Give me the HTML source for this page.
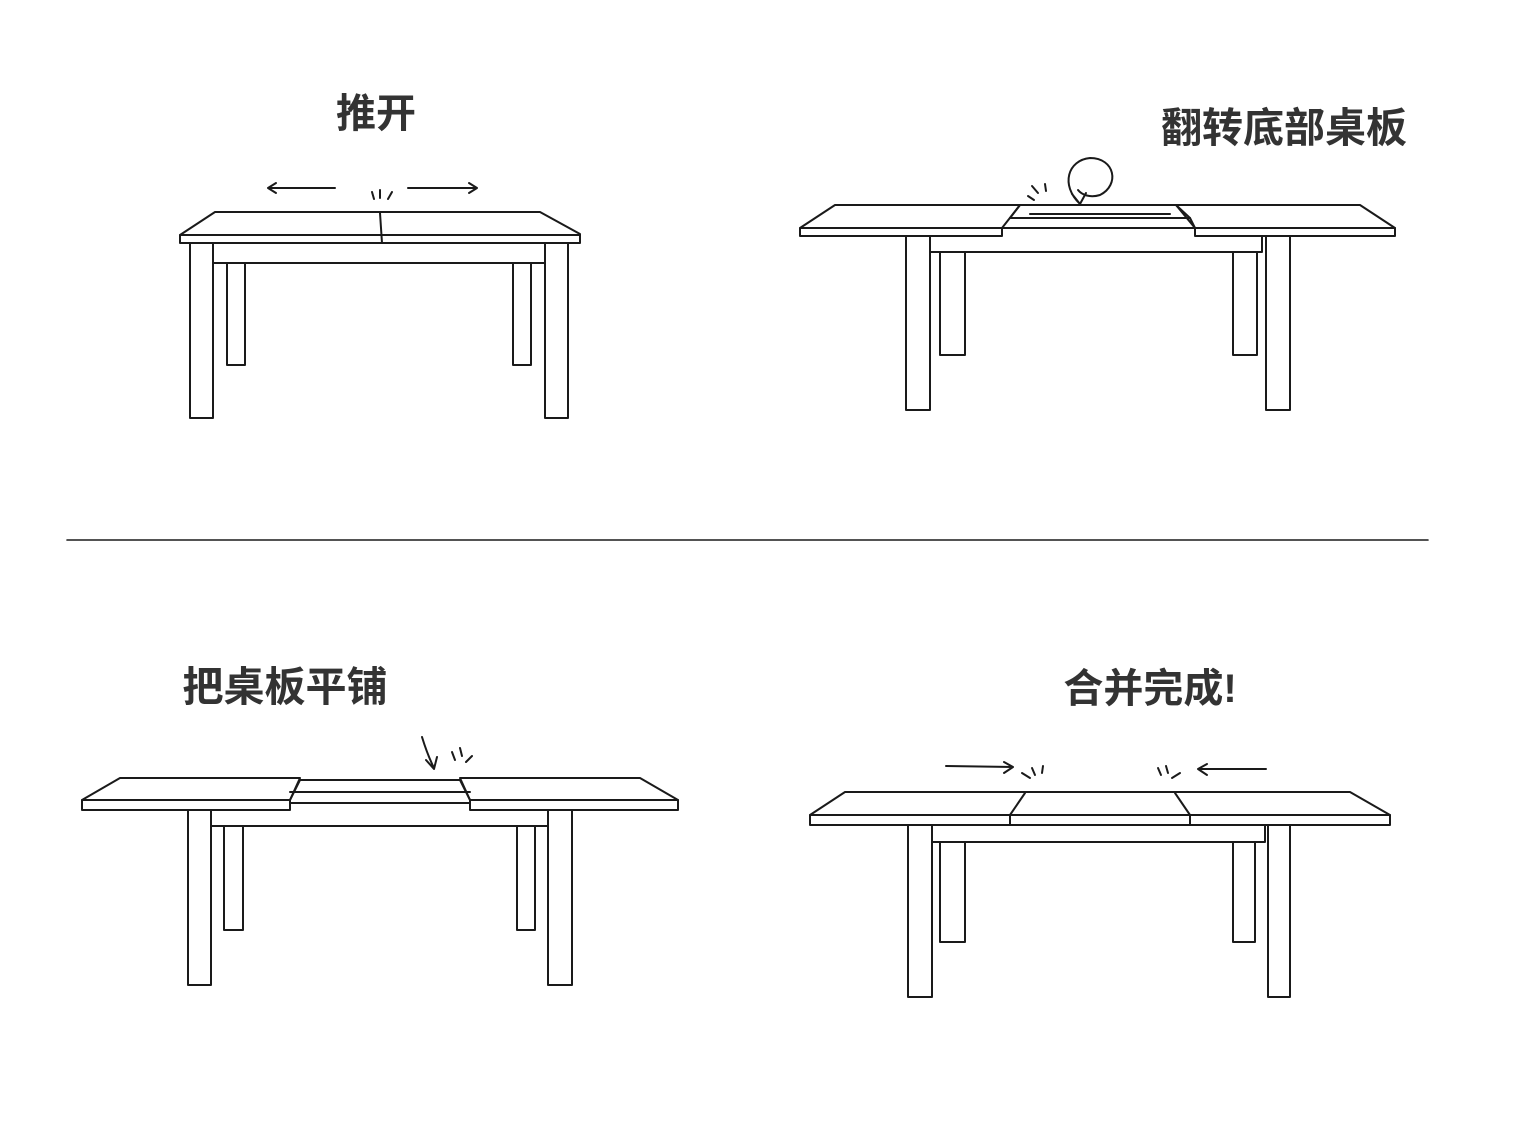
<!DOCTYPE html>
<html><head><meta charset="utf-8"><style>
html,body{margin:0;padding:0;background:#fff;}
svg{display:block}
text{font-family:"Liberation Sans","Noto Sans CJK SC",sans-serif;font-weight:bold;fill:#333;}
</style></head><body>
<svg width="1530" height="1134" viewBox="0 0 1530 1134" xmlns="http://www.w3.org/2000/svg">
<g fill="none" stroke="#1a1a1a" stroke-width="2" stroke-linejoin="round" stroke-linecap="round">
<path d="M215 212 L540 212 L580 234 L580 243 L180 243 L180 235 Z"/>
<path d="M180 235 L580 235"/>
<path d="M380 213 L382 243"/>
<path d="M210 243 L210 263 L545 263 L545 243"/>
<rect x="190" y="243" width="23" height="175" fill="#fff"/>
<rect x="545" y="243" width="23" height="175" fill="#fff"/>
<path d="M227 263 L227 365 L245 365 L245 263"/>
<path d="M513 263 L513 365 L531 365 L531 263"/>
<path d="M335 188 L268 188 M276 183 L268 188 L276 193"/>
<path d="M408 188 L477 188 M469 183 L477 188 L469 193"/>
<path d="M372 192 L374 199 M380 190 L380 198 M392 192 L388 199"/>
<path d="M835 205 L1020 205 L1002 228 L1002 236 L800 236 L800 228 Z"/>
<path d="M800 228 L1002 228"/>
<path d="M1176 205 L1360 205 L1395 228 L1395 236 L1195 236 L1195 228 Z"/>
<path d="M1195 228 L1395 228"/>
<path d="M1020 205 L1180 205"/>
<path d="M1010 218 L1190 218 M1002 228 L1195 228"/>
<path d="M1176 205 L1190 218 L1195 228 M1020 205 L1010 218"/>
<path d="M1030 214 L1170 214"/>
<path d="M928 236 L928 252 L1262 252 L1262 236"/>
<rect x="906" y="236" width="24" height="174" fill="#fff"/>
<rect x="1266" y="236" width="24" height="174" fill="#fff"/>
<path d="M940 252 L940 355 L965 355 L965 252"/>
<path d="M1233 252 L1233 355 L1257 355 L1257 252"/>
<path d="M1080 204 C1060 185 1068 160 1090 158 C1115 158 1120 185 1100 195 C1090 198 1082 195 1078 190 M1072 194 L1080 204 L1086 193"/>
<path d="M1028 196 L1034 200 M1032 186 L1038 193 M1045 184 L1046 191"/>
<path d="M67 540 L1428 540" stroke-width="1.6"/>
<path d="M120 778 L300 778 L290 800 L290 810 L82 810 L82 800 Z"/>
<path d="M82 800 L290 800"/>
<path d="M460 778 L640 778 L678 800 L678 810 L470 810 L470 800 Z"/>
<path d="M470 800 L678 800"/>
<path d="M300 780 L460 780 L470 800 L470 803 M300 780 L290 800"/>
<path d="M290 792 L470 792 M290 803 L470 803"/>
<path d="M210 810 L210 826 L552 826 L552 810"/>
<rect x="188" y="810" width="23" height="175" fill="#fff"/>
<rect x="548" y="810" width="24" height="175" fill="#fff"/>
<path d="M224 826 L224 930 L243 930 L243 826"/>
<path d="M517 826 L517 930 L535 930 L535 826"/>
<path d="M422 737 C426 750 430 760 434 768 M426 760 L434 769 L437 757"/>
<path d="M452 752 L455 760 M460 748 L462 756 M472 756 L466 762"/>
<path d="M845 792 L1350 792 L1390 815 L1390 825 L810 825 L810 815 Z"/>
<path d="M810 815 L1390 815"/>
<path d="M1025 793 L1010 815 L1010 825 M1175 793 L1190 815 L1190 825"/>
<path d="M930 825 L930 842 L1265 842 L1265 825"/>
<rect x="908" y="825" width="24" height="172" fill="#fff"/>
<rect x="1268" y="825" width="22" height="172" fill="#fff"/>
<path d="M940 842 L940 942 L965 942 L965 842"/>
<path d="M1233 842 L1233 942 L1255 942 L1255 842"/>
<path d="M946 766 L1013 767 M1004 762 L1013 767 L1004 773"/>
<path d="M1266 769 L1198 769 M1207 764 L1198 769 L1207 775"/>
<path d="M1022 773 L1030 778 M1032 768 L1035 775 M1043 766 L1042 773"/>
<path d="M1158 768 L1161 775 M1166 766 L1168 773 M1180 773 L1172 778"/>
</g>
<text x="376" y="127" font-size="40" text-anchor="middle">推开</text>
<text x="1284" y="142" font-size="41" text-anchor="middle">翻转底部桌板</text>
<text x="285" y="701" font-size="41" text-anchor="middle">把桌板平铺</text>
<text x="1150" y="702" font-size="40" text-anchor="middle">合并完成!</text>
</svg>
</body></html>
